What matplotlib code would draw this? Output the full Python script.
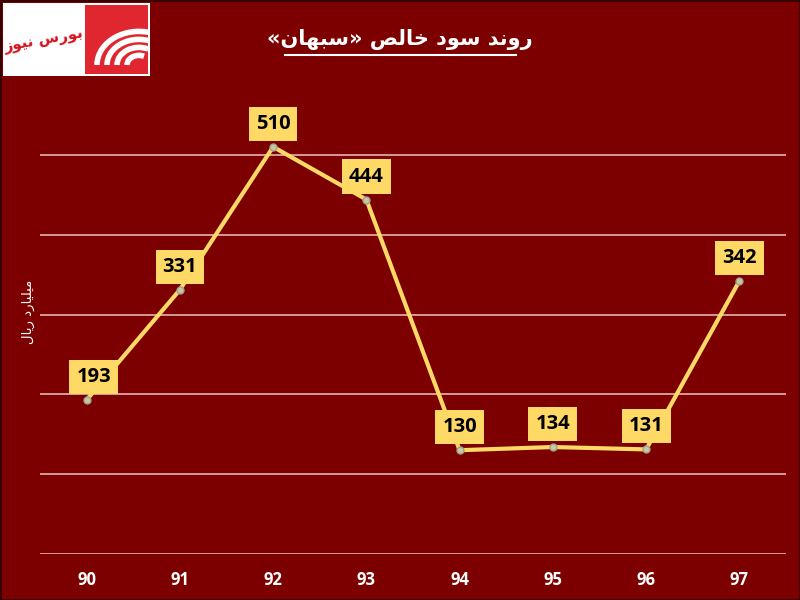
import matplotlib
matplotlib.use("Agg")
import matplotlib.pyplot as plt
from matplotlib.patches import Rectangle, Arc
from matplotlib.lines import Line2D

# data
years = ["90", "91", "92", "93", "94", "95", "96", "97"]
profit = [193, 331, 510, 444, 130, 134, 131, 342]

title_txt = "روند سود خالص «سبهان»"
ylabel_txt = "میلیارد ریال"
logo_txt = "بورس نیوز"

BG = "#7d0000"
GOLD = "#ffd966"

# simple arabic/persian shaping (matplotlib has no RTL shaping)
forms = {
    'ا': ('\uFE8D', '\uFE8E'),
    'ب': ('\uFE8F', '\uFE90', '\uFE91', '\uFE92'),
    'خ': ('\uFEA5', '\uFEA6', '\uFEA7', '\uFEA8'),
    'د': ('\uFEA9', '\uFEAA'),
    'ر': ('\uFEAD', '\uFEAE'),
    'ز': ('\uFEAF', '\uFEB0'),
    'س': ('\uFEB1', '\uFEB2', '\uFEB3', '\uFEB4'),
    'ص': ('\uFEB9', '\uFEBA', '\uFEBB', '\uFEBC'),
    'ل': ('\uFEDD', '\uFEDE', '\uFEDF', '\uFEE0'),
    'م': ('\uFEE1', '\uFEE2', '\uFEE3', '\uFEE4'),
    'ن': ('\uFEE5', '\uFEE6', '\uFEE7', '\uFEE8'),
    'ه': ('\uFEE9', '\uFEEA', '\uFEEB', '\uFEEC'),
    'و': ('\uFEED', '\uFEEE'),
    'ی': ('\uFBFC', '\uFBFD', '\uFEF3', '\uFEF4'),
}


def shape(s):
    out = []
    for i, c in enumerate(s):
        if c not in forms:
            out.append(c)
            continue
        f = forms[c]
        p = s[i - 1] if i > 0 else ''
        n = s[i + 1] if i + 1 < len(s) else ''
        jp = p in forms and len(forms[p]) == 4
        jn = len(f) == 4 and n in forms
        if jp and jn:
            g = f[3]
        elif jp:
            g = f[1]
        elif jn:
            g = f[2]
        else:
            g = f[0]
        out.append(g)
    vis = ''.join(reversed(out))
    return vis.translate({ord('«'): '»', ord('»'): '«'})


fig = plt.figure(figsize=(8, 6), dpi=100)
fig.patch.set_facecolor(BG)
fig.patch.set_edgecolor("#3a0000")
fig.patch.set_linewidth(2)

ax = fig.add_axes([40 / 800, 1 - 554 / 600, 746 / 800, 479 / 600])
ax.set_facecolor(BG)
x = list(range(len(years)))
ax.plot(x, profit, color=GOLD, lw=3, solid_joinstyle="miter", zorder=3,
        marker="o", ms=5, mfc="#c8c8a0", mec="#a0a090", mew=1)
for xi, v in zip(x, profit):
    ax.annotate(str(v), (xi, v), xytext=(7 if xi == 0 else 0, 23),
                textcoords="offset pixels", ha="center", va="center",
                fontsize=14.5, fontweight="bold", family="Open Sans", color="black",
                bbox=dict(boxstyle="square,pad=0.35", fc=GOLD, ec="none"), zorder=5)

ax.set_xlim(-0.5, len(years) - 0.5)
ax.set_ylim(0, 600)
ax.set_yticks([0, 100, 200, 300, 400, 500])
ax.yaxis.grid(True, color="#e6b4b4", lw=1.2)
ax.set_axisbelow(True)
ax.tick_params(left=False, labelleft=False, bottom=False)
ax.set_xticks(x)
ax.set_xticklabels(years, color="white", fontsize=12, fontweight="bold", family="Open Sans")
ax.tick_params(axis="x", pad=9)
for sp in ax.spines.values():
    sp.set_visible(False)

# titles
fig.text(400 / 800, 1 - 39 / 600, shape(title_txt), ha="center", va="center",
         color="white", fontsize=15, fontweight="bold", family="DejaVu Sans")
fig.add_artist(Line2D([285 / 800, 516 / 800], [1 - 55 / 600, 1 - 55 / 600],
                      color="white", lw=1.5))
fig.text(28 / 800, 1 - 312 / 600, shape(ylabel_txt), ha="center", va="center",
         rotation=90, color="white", fontsize=9.5, family="DejaVu Sans")

# logo
lax = fig.add_axes([3 / 800, 1 - 76 / 600, 147 / 800, 73 / 600])
lax.set_xlim(0, 147)
lax.set_ylim(73, 0)
lax.axis("off")
lax.add_patch(Rectangle((0, 0), 147, 73, fc="white", ec="none"))
lax.add_patch(Rectangle((82, 2), 63, 69, fc="#e0262e", ec="none"))
for r in [12, 22, 32, 42]:
    lax.add_patch(Arc((136, 62), 2 * r, 2 * r * 0.8, theta1=180, theta2=300,
                      color="white", lw=4))
lax.text(41, 38, shape(logo_txt), ha="center", va="center", color="#d4141c",
         fontsize=11, fontweight="bold", family="DejaVu Sans", rotation=10)

fig.savefig("out.png", dpi=100, facecolor=BG, edgecolor="#3a0000")
